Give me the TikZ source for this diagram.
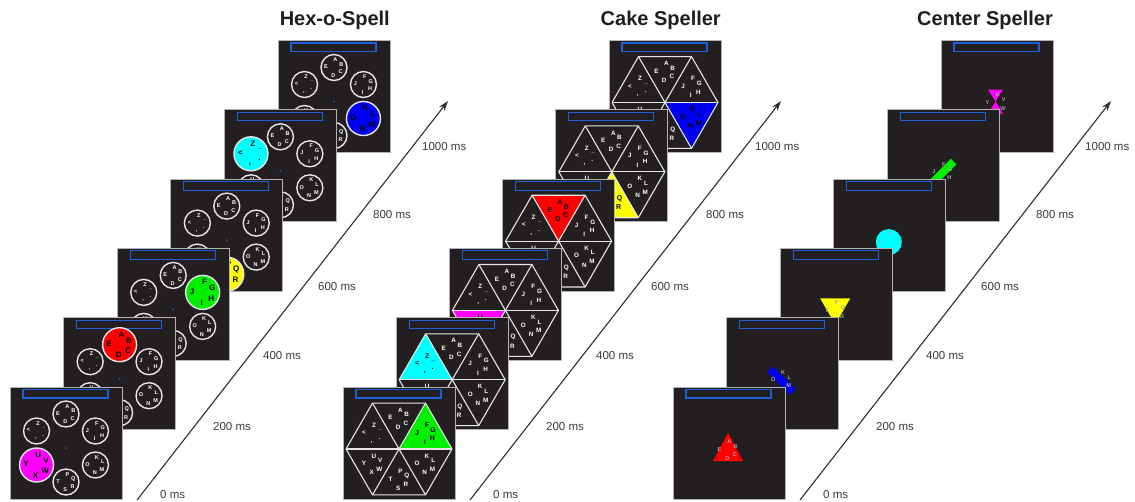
\documentclass[tikz,border=0pt]{standalone}
\usepackage{fontspec}
\setmainfont{Liberation Sans}
\usetikzlibrary{arrows.meta}
\definecolor{bgdark}{HTML}{231F20}
\definecolor{framegray}{HTML}{B4B4B4}
\definecolor{barblue}{HTML}{1F5FD8}
\definecolor{ringwhite}{HTML}{E6E6E6}
\definecolor{letgray}{HTML}{A6A6A6}
\definecolor{labgray}{HTML}{3A3A3A}
\definecolor{titlegray}{HTML}{1E1E1E}
\definecolor{arrowgray}{HTML}{2E2E2E}
\definecolor{cMag}{HTML}{FF00FF}
\definecolor{cRed}{HTML}{FF0000}
\definecolor{cGreen}{HTML}{00F000}
\definecolor{cYellow}{HTML}{FFFF00}
\definecolor{cCyan}{HTML}{00FFFF}
\definecolor{cBlue}{HTML}{0000F0}
\expandafter\def\csname grp0\endcsname{A/80,B/25,C/-35,D/-95,E/175}
\expandafter\def\csname grp1\endcsname{F/80,G/25,H/-35,I/-95,J/175}
\expandafter\def\csname grp2\endcsname{K/80,L/25,M/-35,N/-95,O/175}
\expandafter\def\csname grp3\endcsname{P/80,Q/25,R/-35,S/-95,T/175}
\expandafter\def\csname grp4\endcsname{U/80,V/25,W/-35,X/-95,Y/175}
\expandafter\def\csname grp5\endcsname{Z/80,\_/25,./-35,{,}/-95,</175}
\tikzset{
  panelbg/.style={fill=bgdark},
  panelline/.style={draw=framegray, line width=0.8pt},
  bluebar/.style={draw=barblue, line width=1.1pt},
  hexring/.style={draw=ringwhite, line width=1.4pt},
  cakeline/.style={draw=ringwhite, line width=1.1pt, line join=round},
  letw/.style={text=white, font=\fontsize{5.5}{5.5}\selectfont\bfseries, inner sep=0pt},
  letwc/.style={text=white, font=\fontsize{6.3}{6.3}\selectfont\bfseries, inner sep=0pt},
  letb/.style={text=black, font=\fontsize{8}{8}\selectfont\bfseries, inner sep=0pt},
  letbs/.style={text=black, font=\fontsize{7}{7}\selectfont\bfseries, inner sep=0pt},
  letg/.style={text=letgray, font=\fontsize{5.5}{5.5}\selectfont\bfseries, inner sep=0pt},
  timelabel/.style={font=\fontsize{11.5}{12}\selectfont, text=labgray, anchor=west, inner sep=0pt},
  titletext/.style={font=\fontsize{20}{22}\selectfont\bfseries, text=titlegray, inner sep=0pt, anchor=east},
  timearrow/.style={draw=arrowgray, line width=1.1pt, -{Stealth[length=10pt,width=6.5pt]}},
}
\newcommand{\spBox}{%
  \fill[panelbg] (0,0) rectangle (112,-112);
  \draw[panelline] (0,0) rectangle (112,-112);
  \draw[bluebar] (13,-2.5) rectangle (98,-11);
}
% #1 name, #2 panel index, #3 selected group, #4 colour
\newcommand{\hexpanel}[4]{%
  \begin{scope}[shift={({10+53.6*#2},{-387+69.3*#2})}]
    \spBox
    \fill[barblue] (56,-61) circle (1);
    \foreach \k in {0,...,5}{
      \pgfmathsetmacro\ang{90-60*\k}
      \pgfmathsetmacro\cx{56+34*cos(\ang)}
      \pgfmathsetmacro\cy{-61+34*sin(\ang)}
      \expandafter\let\expandafter\curlist\csname grp\k\endcsname
      \ifnum\k=#3\relax
        \fill[#4] (\cx,\cy) circle (17);
        \draw[hexring] (\cx,\cy) circle (17);
        \foreach \lt/\la [count=\ii] in \curlist {
          \node[letb] (#1-\k-\ii) at ({\cx+10.5*cos(\la)},{\cy+10.5*sin(\la)}) {\lt};
        }
      \else
        \draw[hexring] (\cx,\cy) circle (13);
        \foreach \lt/\la [count=\ii] in \curlist {
          \node[letw] (#1-\k-\ii) at ({\cx+8*cos(\la)},{\cy+8*sin(\la)}) {\lt};
        }
      \fi
    }
  \end{scope}
}
% #1 name, #2 panel index, #3 selected group, #4 colour
\newcommand{\cakepanel}[4]{%
  \begin{scope}[shift={({343+53.2*#2},{-387+69.3*#2})}]
    \spBox
    \pgfmathsetmacro\sa{90-60*#3-30}
    \pgfmathsetmacro\sb{90-60*#3+30}
    \fill[#4] (56,-62) -- +(\sa:53) -- +(\sb:53) -- cycle;
    \draw[cakeline] (56,-62) ++(0:53) -- ++(120:53) -- ++(180:53) -- ++(240:53) -- ++(300:53) -- ++(0:53) -- cycle;
    \draw[cakeline] (3,-62) -- (109,-62);
    \draw[cakeline] (29.5,-16.1) -- (82.5,-107.9);
    \draw[cakeline] (82.5,-16.1) -- (29.5,-107.9);
    \foreach \k in {0,...,5}{
      \pgfmathsetmacro\ang{90-60*\k}
      \pgfmathsetmacro\cx{56+30.6*cos(\ang)}
      \pgfmathsetmacro\cy{-62+30.6*sin(\ang)}
      \expandafter\let\expandafter\curlist\csname grp\k\endcsname
      \ifnum\k=#3\relax
        \foreach \lt/\la [count=\ii] in \curlist {
          \node[letbs] (#1-\k-\ii) at ({\cx+8.5*cos(\la)},{\cy+8.5*sin(\la)}) {\lt};
        }
      \else
        \foreach \lt/\la [count=\ii] in \curlist {
          \node[letwc] (#1-\k-\ii) at ({\cx+8.5*cos(\la)},{\cy+8.5*sin(\la)}) {\lt};
        }
      \fi
    }
  \end{scope}
}
% #1 name, #2 panel index, #3 group, #4 shape drawing
\newcommand{\centerpanel}[4]{%
  \begin{scope}[shift={({673+53.6*#2},{-387+69.3*#2})}]
    \spBox
    #4
    \expandafter\let\expandafter\curlist\csname grp#3\endcsname
    \foreach \lt/\la [count=\ii] in \curlist {
      \node[letg] (#1-\ii) at ({55+8.5*cos(\la)},{-63+8.5*sin(\la)}) {\lt};
    }
  \end{scope}
}
\begin{document}
\begin{tikzpicture}[x=1pt,y=1pt]
\useasboundingbox (0,0) rectangle (1135,-501);
% titles
\node[titletext] (tHex) at (390,-20) {Hex-o-Spell};
\node[titletext] (tCake) at (721,-20) {Cake Speller};
\node[titletext] (tCenter) at (1053,-20) {Center Speller};
% Hex-o-Spell panels (back to front)
\hexpanel{hp5}{5}{2}{cBlue}
\hexpanel{hp4}{4}{5}{cCyan}
\hexpanel{hp3}{3}{3}{cYellow}
\hexpanel{hp2}{2}{1}{cGreen}
\hexpanel{hp1}{1}{0}{cRed}
\hexpanel{hp0}{0}{4}{cMag}
% Cake Speller panels
\cakepanel{cp5}{5}{2}{cBlue}
\cakepanel{cp4}{4}{3}{cYellow}
\cakepanel{cp3}{3}{0}{cRed}
\cakepanel{cp2}{2}{4}{cMag}
\cakepanel{cp1}{1}{5}{cCyan}
\cakepanel{cp0}{0}{1}{cGreen}
% Center Speller panels
\centerpanel{zp5}{5}{4}{\fill[cMag] (47,-49) -- (62,-49) -- (54.5,-61) -- (62,-73) -- (47,-73) -- (54.5,-61) -- cycle;}
\centerpanel{zp4}{4}{1}{\draw[cGreen, line width=8pt] (66.3,-51.7) -- (43.7,-74.3);}
\centerpanel{zp3}{3}{5}{\fill[cCyan] (55,-63) circle (13);}
\centerpanel{zp2}{2}{3}{\fill[cYellow] (40,-50) -- (70,-50) -- (55,-76) -- cycle;}
\centerpanel{zp1}{1}{2}{\draw[cBlue, line width=8pt] (43.7,-51.7) -- (66.3,-74.3);}
\centerpanel{zp0}{0}{0}{\fill[cRed] (40,-74) -- (70,-74) -- (55,-46) -- cycle;}
% time axes
\foreach \gx/\gn in {0/h,333/c,663/z}{
  \coordinate (\gn As) at ({137+\gx},-500);
  \coordinate (\gn Ae) at ({448+\gx},-101);
  \draw[timearrow] (\gn As) -- (\gn Ae);
  \foreach \lx/\ly/\lt [count=\ii] in {160/495/0,213/427/200,263/356/400,318/287/600,373/215/800,422/147/1000}{
    \node[timelabel] (\gn L\ii) at ({\lx+\gx},-\ly) {\lt\ ms};
  }
}
\end{tikzpicture}
\end{document}
